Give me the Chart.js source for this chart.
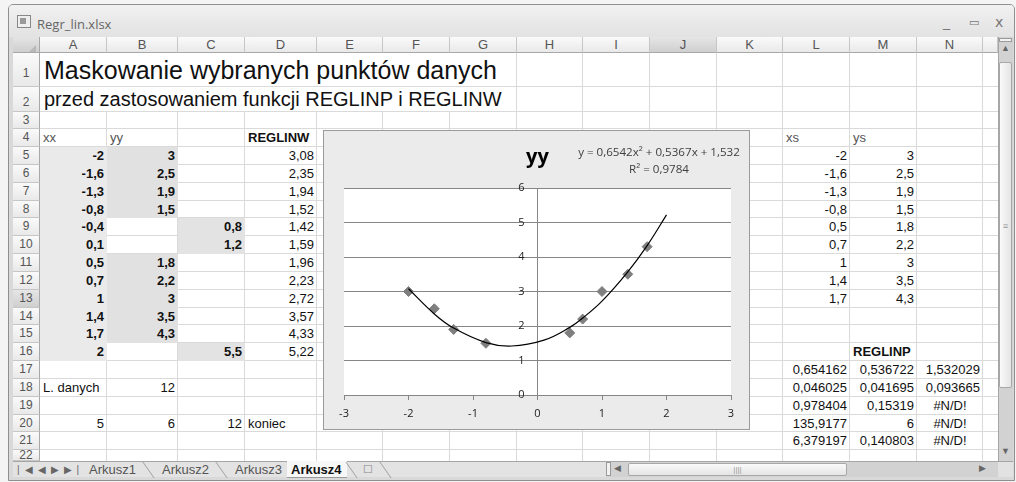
<!DOCTYPE html>
<html>
<head>
<meta charset="utf-8">
<script src="https://cdn.jsdelivr.net/npm/chart.js@4/dist/chart.umd.min.js"></script>
<style>
  body { margin: 0; width: 1016px; height: 482px; overflow: hidden; background: #f4f4f4; position: relative;
         font-family: "Liberation Sans", Arial, sans-serif; }
  .abs { position: absolute; box-sizing: border-box; }
  #win { left: 8px; top: 4px; width: 1007px; height: 477px; border: 1px solid #8f8f8f; border-radius: 5px 5px 0 0;
         background: #d9d9d9; }
  #titlebar { left: 9px; top: 5px; width: 1005px; height: 32px; background: linear-gradient(#f1f1f1, #e2e2e2);
              border-radius: 4px 4px 0 0; }
  #titlebar .name { position: absolute; left: 28px; top: 10px; font: 13px "Open Sans", sans-serif; color: #666; }
  #titlebar .ctl { position: absolute; top: 9px; font: 14px "DejaVu Sans", sans-serif; color: #777; }
  #sheet { left: 40px; top: 53px; width: 958px; height: 408px; overflow: hidden; background: #fff; }
  .hdr { position: absolute; box-sizing: border-box; background: linear-gradient(#fafafa, #e9e9e9);
         color: #555; font-size: 13px; text-align: center; }
  .hdr.sel { background: linear-gradient(#e6e6e6, #cfcfcf); }
  #chartBox { left: 323px; top: 130px; width: 427px; height: 300px; border: 1px solid #9a9a9a; background: #ebebeb; }
  #tabs { left: 13px; top: 461px; width: 593px; height: 16px; background: #e3e3e3; border-top: 1px solid #a5a5a5;
          font-size: 13px; color: #555; }
  #tabs span { position: absolute; top: 0; line-height: 15px; }
  .sep { position: absolute; top: 0; width: 1px; height: 16px; background: #a0a0a0; transform: skewX(35deg); }
</style>
</head>
<body>
<div class="abs" id="win"></div>
<div class="abs" id="titlebar">
  <svg style="position:absolute;left:8px;top:10px" width="15" height="14"><rect x="0.5" y="0.5" width="13" height="12" fill="#eee" stroke="#888"/><rect x="3" y="3" width="6" height="6" fill="#999"/></svg>
  <span class="name">Regr_lin.xlsx</span>
  <span class="ctl" style="left:934px">_</span>
  <span class="ctl" style="left:960px;font-size:11px;top:11px">&#9645;</span>
  <span class="ctl" style="left:986px">x</span>
</div>
<div class="abs" id="sheet"></div>
<div class="abs" id="chartBox"><canvas id="chart" width="425" height="298"></canvas></div>
<div class="abs" id="tabs">
  <span style="left:4px;font-size:10px;color:#666;letter-spacing:5px">|&#9664;&#9664;&#9654;&#9654;|</span>
  <span style="left:76px">Arkusz1</span>
  <div class="sep" style="left:135px"></div>
  <span style="left:149px">Arkusz2</span>
  <div class="sep" style="left:208px"></div>
  <span style="left:222px">Arkusz3</span>
  <div class="sep" style="left:279px"></div>
  <div style="position:absolute;left:274px;top:-1px;width:60px;height:16px;background:#f7f7f7;border-bottom:1px solid #999"></div>
  <span style="left:278px;font-weight:bold;color:#111">Arkusz4</span>
  <div class="sep" style="left:338px"></div>
  <span style="left:350px;font-size:11px;color:#888">&#9744;</span>
  <div class="sep" style="left:372px"></div>
</div>
<div class="abs" style="left:606px;top:461px;width:392px;height:16px;background:#d2d2d2;border-top:1px solid #a5a5a5"></div>
<div class="abs" style="left:606px;top:462px;width:5px;height:14px;background:#f2f2f2;border:1px solid #9a9a9a"></div>
<div class="abs" style="left:614px;top:463px;font-size:9px;color:#666">&#9664;</div>
<div class="abs" style="left:628px;top:463px;width:219px;height:13px;background:linear-gradient(#fafafa,#e4e4e4);border:1px solid #a8a8a8;border-radius:2px;font-size:8px;color:#999;text-align:center;line-height:11px">||||</div>
<div class="abs" style="left:979px;top:463px;font-size:9px;color:#666">&#9654;</div>
<div class="abs" style="left:998px;top:37px;width:15px;height:424px;background:#d2d2d2;border-left:1px solid #a5a5a5"></div>
<div class="abs" style="left:999px;top:38px;width:13px;height:4px;background:#f2f2f2;border:1px solid #9a9a9a"></div>
<div class="abs" style="left:1001px;top:43px;font-size:9px;color:#666">&#9650;</div>
<div class="abs" style="left:999px;top:62px;width:13px;height:326px;background:linear-gradient(90deg,#fafafa,#e4e4e4);border:1px solid #a8a8a8;border-radius:2px;font-size:9px;color:#999;text-align:center;line-height:326px">&#8801;</div>
<div class="abs" style="left:1001px;top:446px;font-size:9px;color:#666">&#9660;</div>
<div class="abs" style="left:998px;top:461px;width:15px;height:16px;background:#e2e2e2;border-top:1px solid #a5a5a5"></div>

<script>
// sheet data (columns A..D)
const xx = [-2, -1.6, -1.3, -0.8, -0.4, 0.1, 0.5, 0.7, 1, 1.4, 1.7, 2]
const yy = [3, 2.5, 1.9, 1.5, null, null, 1.8, 2.2, 3, 3.5, 4.3, null]
const masked = [null, null, null, null, 0.8, 1.2, null, null, null, null, null, 5.5]
const reglinw = [3.08, 2.35, 1.94, 1.52, 1.42, 1.59, 1.96, 2.23, 2.72, 3.57, 4.33, 5.22]

// chart points (columns L, M)
const xs = [-2, -1.6, -1.3, -0.8, 0.5, 0.7, 1, 1.4, 1.7]
const ys = [3, 2.5, 1.9, 1.5, 1.8, 2.2, 3, 3.5, 4.3]

// REGLINP output block (L17:N21)
const reglinp = [
  ['0,654162', '0,536722', '1,532029'],
  ['0,046025', '0,041695', '0,093665'],
  ['0,978404', '0,15319', '#N/D!'],
  ['135,9177', '6', '#N/D!'],
  ['6,379197', '0,140803', '#N/D!']
]

const trendLabel = ['y = 0,6542x² + 0,5367x + 1,532', 'R² = 0,9784']
const xRange = [-3, 3]
const yRange = [0, 6]

// ---------- spreadsheet grid ----------
const colNames = ['A', 'B', 'C', 'D', 'E', 'F', 'G', 'H', 'I', 'J', 'K', 'L', 'M', 'N', '']
const colX = [40, 107, 178, 245, 317, 383, 450, 517, 583, 650, 717, 783, 850, 917, 983, 1049]
const rowTop = r => r === 1 ? 53 : r === 2 ? 87 : r === 3 ? 112 : 129.3 + (r - 4) * 17.83
const fmt = v => String(v).replace('.', ',')

const sheet = document.querySelector('#sheet')

function box(parent, x, y, w, h, css) {
  const d = document.createElement('div')
  const ox = parent === sheet ? 40 : 0, oy = parent === sheet ? 53 : 0
  d.style.cssText = `position:absolute;box-sizing:border-box;left:${x - ox}px;top:${y - oy}px;width:${w}px;height:${h}px;` + (css || '')
  parent.appendChild(d)
  return d
}

function cell(col, row, text, align, css) {
  const c = colNames.indexOf(col)
  const x = colX[c], w = colX[c + 1] - x
  const y = rowTop(row), h = rowTop(row + 1) - y
  const d = box(sheet, x, y, w, h, `line-height:${h}px;padding:0 3px;white-space:nowrap;font-size:13px;color:#111;text-align:${align};` + (css || ''))
  d.textContent = text
  return d
}

// gridlines
for (let r = 2; r <= 23; r++) box(sheet, 40, rowTop(r) - 1, 958, 1, 'background:#dadada')
colX.slice(1, 15).forEach(x => {
  const top = (x > 100 && x < 500) ? rowTop(3) : 53
  box(sheet, x - 1, top, 1, 461 - top, 'background:#dadada')
})

// shaded cells
const shade = (col, row, color) => cell(col, row, '', 'left', 'background:' + color)
for (let i = 0; i < 12; i++) {
  shade('A', 5 + i, '#eaeaea')
  if (yy[i] !== null) shade('B', 5 + i, '#e1e1e1')
  if (masked[i] !== null) shade('C', 5 + i, '#e3e3e3')
}

// texts
cell('A', 1, 'Maskowanie wybranych punktów danych', 'left', 'width:700px;font-size:25px;padding-left:4px')
cell('A', 2, 'przed zastosowaniem funkcji REGLINP i REGLINW', 'left', 'width:700px;font-size:20px;padding-left:4px')
cell('A', 4, 'xx', 'left', 'color:#555')
cell('B', 4, 'yy', 'left', 'color:#555')
cell('D', 4, 'REGLINW', 'left', 'font-weight:bold')
xx.forEach((v, i) => {
  cell('A', 5 + i, fmt(v), 'right', 'font-weight:bold')
  if (yy[i] !== null) cell('B', 5 + i, fmt(yy[i]), 'right', 'font-weight:bold')
  if (masked[i] !== null) cell('C', 5 + i, fmt(masked[i]), 'right', 'font-weight:bold')
  cell('D', 5 + i, fmt(reglinw[i]), 'right')
})
cell('A', 18, 'L. danych', 'left')
cell('B', 18, '12', 'right')
cell('A', 20, '5', 'right')
cell('B', 20, '6', 'right')
cell('C', 20, '12', 'right')
cell('D', 20, 'koniec', 'left')

cell('L', 4, 'xs', 'left', 'color:#555')
cell('M', 4, 'ys', 'left', 'color:#555')
xs.forEach((v, i) => {
  cell('L', 5 + i, fmt(v), 'right')
  cell('M', 5 + i, fmt(ys[i]), 'right')
})
cell('M', 16, 'REGLINP', 'left', 'font-weight:bold')
reglinp.forEach((row, i) => {
  row.forEach((t, j) => cell(['L', 'M', 'N'][j], 17 + i, t, t[0] === '#' ? 'center' : 'right'))
})

// column and row headers
const body = document.body
box(body, 13, 37, 27, 16, 'background:linear-gradient(#e4e4e4,#cfcfcf);border-right:1px solid #a8a8a8;border-bottom:1px solid #a8a8a8')
box(body, 29, 45, 0, 0, 'border-left:7px solid transparent;border-bottom:7px solid #b8b8b8')
colNames.forEach((n, c) => {
  const x = colX[c], w = Math.min(colX[c + 1], 998) - x
  const d = box(body, x, 37, w, 16, 'border-right:1px solid #c6c6c6;border-bottom:1px solid #a8a8a8;line-height:15px')
  d.className = 'hdr' + (n === 'J' ? ' sel' : '')
  d.textContent = n
})
for (let r = 1; r <= 22; r++) {
  const y = rowTop(r), h = Math.min(rowTop(r + 1), 461) - y
  const d = box(body, 13, y, 27, h, `border-right:1px solid #a8a8a8;border-bottom:1px solid #c6c6c6;line-height:${h + (r < 3 ? 6 : 0)}px;font-size:12px`)
  d.className = 'hdr' + (r === 13 ? ' sel' : '')
  d.textContent = r
}

// ---------- chart ----------
const axisGray = '#868686'
const markGray = '#7f7f7f'
const tickFont = { family: 'Open Sans', size: 11 }

const whitePlot = {
  id: 'whitePlot',
  beforeDraw(chart) {
    const { ctx, chartArea: a } = chart
    ctx.save()
    ctx.fillStyle = '#fff'
    ctx.fillRect(a.left, a.top, a.right - a.left, a.bottom - a.top)
    ctx.restore()
  }
}

// trendline equation box, as Excel places it
const trendText = {
  id: 'trendText',
  afterDraw(chart) {
    const ctx = chart.ctx
    ctx.save()
    ctx.font = '11.6px "Open Sans"'
    ctx.fillStyle = '#404040'
    ctx.textAlign = 'center'
    ctx.textBaseline = 'middle'
    ctx.fillText(trendLabel[0], 335, 22)
    ctx.fillText(trendLabel[1], 335, 39)
    ctx.restore()
  }
}

new Chart(document.querySelector('#chart'), {
  type: 'scatter',
  data: {
    datasets: [
      {
        label: 'trend',
        data: xx.map((x, i) => ({ x, y: reglinw[i] })),
        showLine: true,
        borderColor: '#000',
        borderWidth: 1.2,
        pointRadius: 0,
        tension: 0.4,
        fill: false
      },
      {
        label: 'yy',
        data: xs.map((x, i) => ({ x, y: ys[i] })),
        pointStyle: 'rectRot',
        pointRadius: 5,
        backgroundColor: markGray,
        borderColor: markGray,
        borderWidth: 1
      }
    ]
  },
  options: {
    responsive: false,
    animation: false,
    layout: { padding: { left: 20, right: 18, top: 0, bottom: 0 } },
    plugins: {
      legend: { display: false },
      tooltip: { enabled: false },
      title: {
        display: true,
        text: 'yy',
        color: '#000',
        font: { family: 'Open Sans', size: 20, weight: 'bold' },
        padding: { top: 14, bottom: 19 }
      }
    },
    scales: {
      x: {
        type: 'linear',
        min: xRange[0],
        max: xRange[1],
        position: 'bottom',
        afterFit: s => { s.height = 34 },
        ticks: { stepSize: 1, font: tickFont, color: '#222', padding: 7, callback: v => String(v) },
        grid: { drawOnChartArea: false, drawTicks: true, tickLength: 5, color: axisGray },
        border: { color: axisGray }
      },
      // value axis crossing at x = 0
      y: {
        min: yRange[0],
        max: yRange[1],
        position: { x: 0 },
        ticks: { stepSize: 1, display: false },
        grid: { color: axisGray, tickLength: 5 },
        border: { color: axisGray }
      },
      // its labels, set a little to the left of the axis line
      yLabels: {
        axis: 'y',
        min: yRange[0],
        max: yRange[1],
        position: { x: -0.2 },
        ticks: { stepSize: 1, font: tickFont, color: '#222', callback: v => String(v) },
        grid: { display: false },
        border: { display: false }
      }
    }
  },
  plugins: [whitePlot, trendText]
})
</script>
</body>
</html>
